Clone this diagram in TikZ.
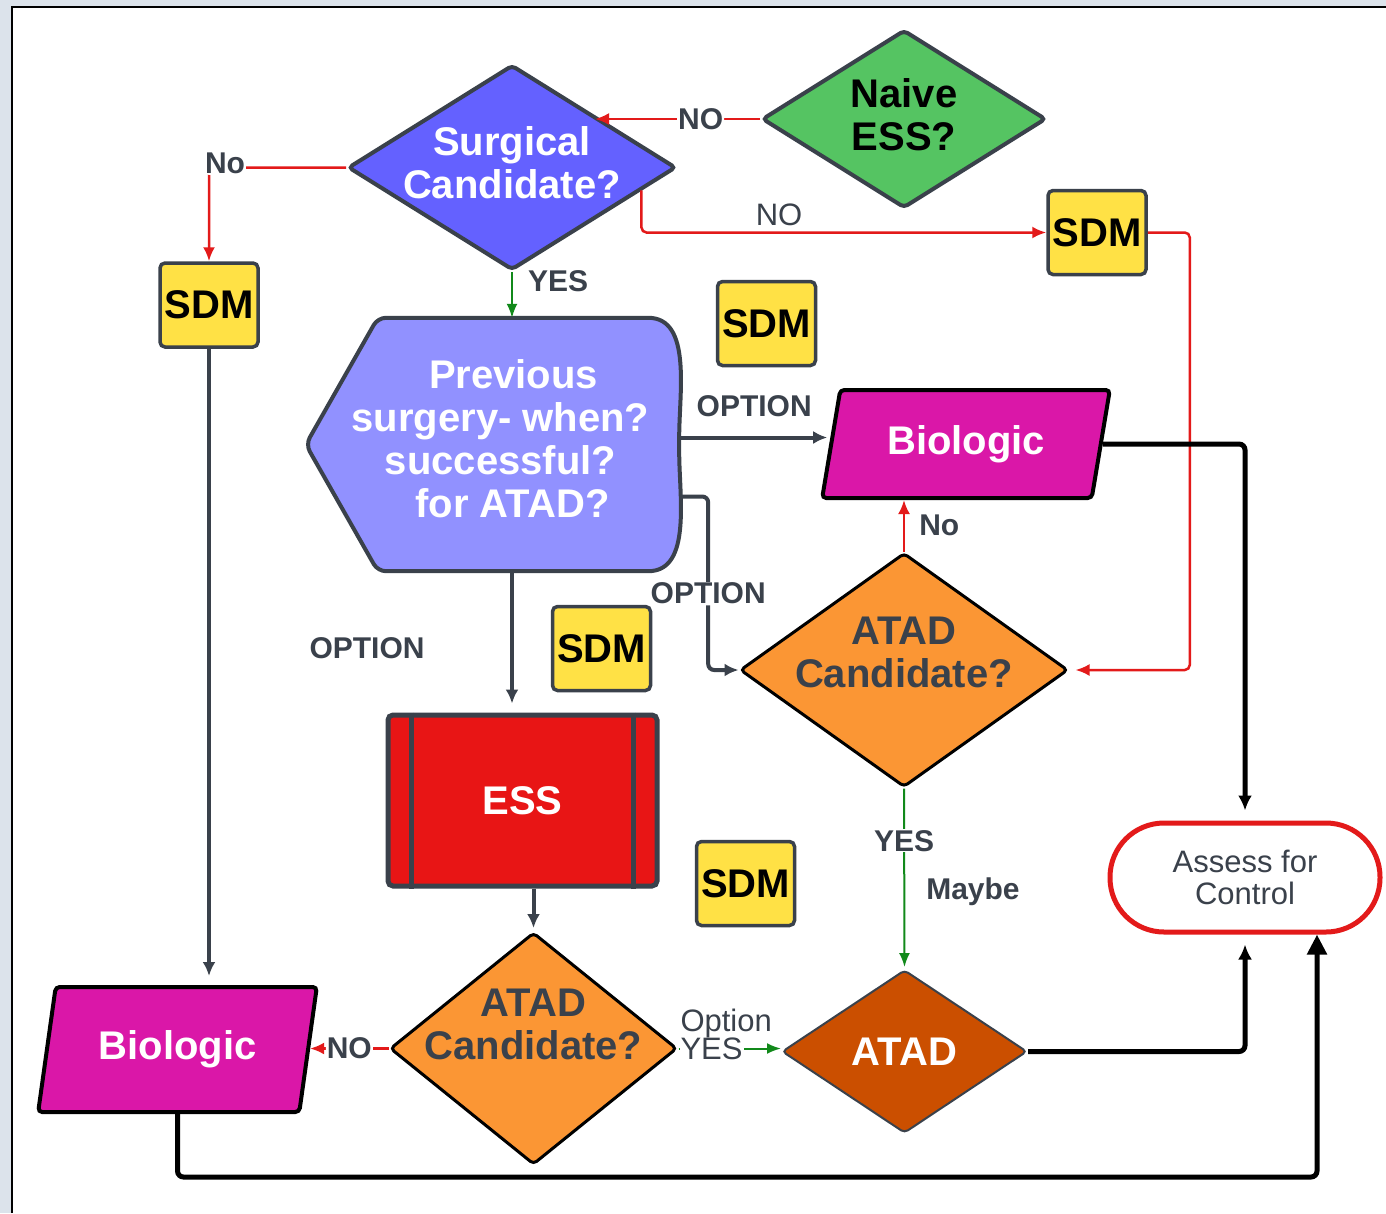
\documentclass[tikz,border=0pt]{standalone}
\usepackage{fontspec}
\setmainfont{Liberation Sans}
\usepackage{xcolor}
\definecolor{edgeGray}{HTML}{3A414B}
\definecolor{pageGray}{HTML}{DCE3EB}
\definecolor{flowRed}{HTML}{E31A1A}
\definecolor{flowGreen}{HTML}{11891A}
\definecolor{sdmYellow}{HTML}{FFE145}
\definecolor{naiveGreen}{HTML}{55C462}
\definecolor{surgBlue}{HTML}{6461FF}
\definecolor{prevBlue}{HTML}{9191FF}
\definecolor{bioMagenta}{HTML}{DA17A8}
\definecolor{atadOrange}{HTML}{FB9634}
\definecolor{atadDark}{HTML}{CB4F00}
\definecolor{essRed}{HTML}{E81515}
\usetikzlibrary{arrows.meta, positioning, shapes.geometric, calc, backgrounds}

\newcommand{\bigtext}{\fontsize{40}{43}\selectfont\bfseries}
\newcommand{\lbltext}{\fontsize{30}{32}\selectfont\bfseries}
\newcommand{\thintext}{\fontsize{31}{32}\selectfont}

\begin{document}
\begin{tikzpicture}[
		x=1pt, y=-1pt,
		decision/.style={diamond, draw=edgeGray, line width=4pt, rounded corners=4pt, inner sep=0pt},
		dtext/.style={font=\bigtext, align=center, inner sep=0pt},
		sdmbox/.style={
			rectangle,
			draw=edgeGray,
			fill=sdmYellow,
			line width=3.5pt,
			rounded corners=5pt,
			minimum width=98pt,
			minimum height=84pt,
			inner sep=0pt,
			font=\bigtext
		},
		biobox/.style={
			trapezium,
			trapezium left angle=75,
			trapezium right angle=105,
			trapezium stretches=true,
			draw=black,
			fill=bioMagenta,
			line width=4pt,
			rounded corners=4pt,
			text=white,
			font=\bigtext
		},
		lbl/.style={font=\lbltext, text=edgeGray, inner sep=1pt},
		lblthin/.style={font=\thintext, text=edgeGray, inner sep=1pt},
		onwhite/.style={fill=white},
		redline/.style={draw=flowRed, line width=2.5pt, -{Latex[length=14pt, width=12pt]}, rounded corners=5pt},
		greenline/.style={draw=flowGreen, line width=2pt, -{Latex[length=14pt, width=11pt]}},
		grayline/.style={draw=edgeGray, line width=4pt, -{Latex[length=14pt, width=13pt]}, rounded corners=6pt},
		blackline/.style={draw=black, line width=5pt, -{Latex[length=15pt, width=14pt]}, rounded corners=6pt, shorten >=10pt}
		]
		
		\useasboundingbox (0,0) rectangle (1386,1213);
		\begin{scope}[on background layer]
			\fill[pageGray] (0,0) rectangle (1386,1213);
			\fill[white] (12,7) rectangle (1386,1213);
			\draw[black, line width=2.5pt] (12,1213) -- (12,7) -- (1386,7);
		\end{scope}
		
		% decisions
		\node[decision, fill=naiveGreen, minimum width=284pt, minimum height=178pt] (naive) at (904,119) {};
		\node[dtext] (naive-t) at ([yshift=4pt]naive.center) {Naive\\ESS?};
		
		\node[decision, fill=surgBlue, minimum width=328pt, minimum height=205pt] (surg) at (512,167.5) {};
		\node[dtext, text=white] (surg-t) at ([yshift=5pt]surg.center) {Surgical\\Candidate?};
		
		\node[decision, draw=black, line width=3pt, fill=atadOrange, minimum width=328pt, minimum height=234pt] (atad2) at (904,670) {};
		\node[dtext, text=edgeGray] (atad2-t) at ([yshift=18pt]atad2.center) {ATAD\\Candidate?};
		
		\node[decision, draw=black, line width=3pt, fill=atadOrange, minimum width=287pt, minimum height=232pt] (atad1) at (533.5,1048.5) {};
		\node[dtext, text=edgeGray] (atad1-t) at ([yshift=24pt]atad1.center) {ATAD\\Candidate?};
		
		\node[decision, line width=2pt, fill=atadDark, minimum width=245pt, minimum height=163pt, font=\bigtext, text=white] (atad) at (904.5,1051.5) {ATAD};
		
		% previous surgery display box
		\node[font=\bigtext, text=white, align=center, minimum width=357pt, minimum height=253pt, inner sep=0pt] (prev) at (500.5,444.5) {\raisebox{6pt}{\begin{tabular}{@{}c@{}}\hspace{26pt}Previous\\surgery- when?\\successful?\\\hspace{24pt}for ATAD?\end{tabular}}};
		\begin{scope}[on background layer]
			\filldraw[fill=prevBlue, draw=edgeGray, line width=4pt, rounded corners=8pt]
			([xshift=-16pt]prev.west) -- ([xshift=56pt]prev.north west) -- ([xshift=-39pt]prev.north east)
			to[out=0, in=90] (prev.east) to[out=-90, in=0] ([xshift=-39pt]prev.south east)
			-- ([xshift=56pt]prev.south west) -- cycle;
		\end{scope}
		
		% SDM boxes
		\node[sdmbox] (sdm1) at (209,305) {SDM};
		\node[sdmbox] (sdm2) at (1097,232.5) {SDM};
		\node[sdmbox] (sdm3) at (766.5,323.5) {SDM};
		\node[sdmbox] (sdm4) at (601.5,648.5) {SDM};
		\node[sdmbox] (sdm5) at (745.5,883.5) {SDM};
		
		\node[biobox, minimum width=288pt, minimum height=108pt] (bio2) at (966,444) {Biologic};
		\node[biobox, minimum width=279pt, minimum height=125pt] (bio1) at (177.5,1049.5) {Biologic};
		
		\node[draw=edgeGray, fill=essRed, line width=5pt, rounded corners=5pt, minimum width=269pt, minimum height=171pt, font=\bigtext, text=white] (ess) at (522.5,800.5) {ESS};
		\draw[edgeGray, line width=5pt] ([xshift=26pt]ess.north west) -- ([xshift=26pt]ess.south west)
		([xshift=-26pt]ess.north east) -- ([xshift=-26pt]ess.south east);
		
		\node[draw=flowRed, line width=5pt, fill=white, rounded corners=54pt, minimum width=270pt, minimum height=109pt, align=center, font=\thintext, text=edgeGray] (assess) at (1245,877.5) {Assess for\\Control};
		
		\node[lbl] (opt-left) at (367,648) {OPTION};
		
		% connectors
		\draw[redline] (naive.west) -- node[lbl, onwhite, pos=0.36] {NO} (naive.west -| surg.north east);
		\draw[redline] (surg.west) -| node[lbl, onwhite, pos=0.5, xshift=16pt, yshift=4pt] {No} (sdm1.north);
		\draw[redline] ($(surg.east)!0.22!(surg.south)$) |- node[lblthin, pos=0.67, above=4pt] {NO} (sdm2.west);
		\draw[redline, shorten >=6pt] (sdm2.east) -- ++(42,0) |- (atad2.east);
		\draw[greenline] (surg.south) -- node[lbl, pos=0.2, anchor=west, xshift=14pt] {YES} (surg.south |- prev.north);
		
		\draw[grayline, shorten >=2pt] ([yshift=7pt]prev.east) -- node[lbl, midway, above=18pt] {OPTION} ([yshift=7pt]prev.east -| bio2.west);
		\draw[grayline] ([yshift=-52pt]prev.east) -- ++(29,0) |- node[lbl, onwhite, pos=0.28] {OPTION} (atad2.west);
		\draw[grayline, shorten >=9pt] (surg.south |- prev.south) -- (surg.south |- ess.north);
		
		\draw[redline] (atad2.north) -- node[lbl, anchor=west, xshift=13pt] {No} (atad2.north |- bio2.south);
		\draw[greenline, shorten >=2pt] (atad2.south) -- node[lbl, onwhite, pos=0.29] {YES}
		node[lbl, pos=0.57, anchor=west, xshift=20pt] {Maybe} (atad.north);
		
		\draw[grayline, shorten >=9pt] (sdm1.south) -- (sdm1.south |- bio1.north);
		\draw[grayline, shorten >=3pt] (ess.south -| atad1.north) -- (atad1.north);
		\draw[redline] (atad1.west) -- node[lbl, onwhite, midway] {NO} (atad1.west -| bio1.east);
		\draw[greenline] (atad1.east) -- node[lblthin, onwhite, pos=0, anchor=west] {YES}
		node[lblthin, pos=0, anchor=south west, yshift=9pt] {Option} (atad1.east -| atad.west);
		
		\draw[blackline] (bio2.east) -| (assess.north);
		\draw[blackline] (atad.east) -| (assess.south);
		\draw[blackline, -{Triangle[length=20pt, width=19pt]}, shorten >=0pt] (bio1.south) -- ++(0,63) -| ([xshift=72pt]assess.south);
		
	\end{tikzpicture}
\end{document}
